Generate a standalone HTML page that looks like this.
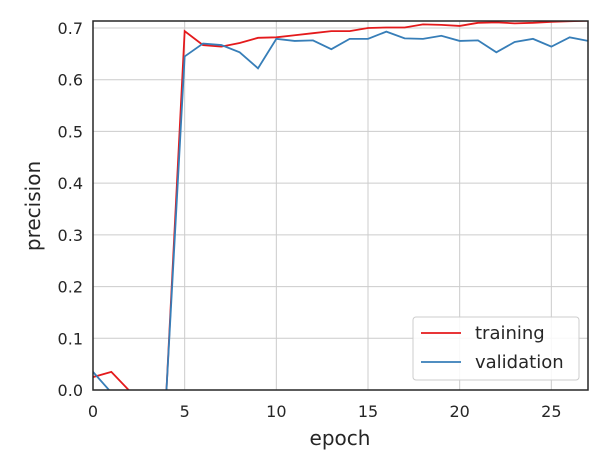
<!DOCTYPE html>
<html><head><meta charset="utf-8"><style>
body{margin:0;background:#fff;font-family:"Liberation Sans","DejaVu Sans",sans-serif;}
svg text{font-family:"DejaVu Sans","Liberation Sans",sans-serif;fill:#262626;}
</style></head><body>
<svg id="chart" width="608" height="471">
<defs><clipPath id="clip"><rect x="93" y="21" width="495" height="369"/></clipPath></defs>
<g id="grid"></g>
<g id="ticks"></g>
<g id="series" clip-path="url(#clip)"></g>
<rect x="93" y="21" width="495" height="369" fill="none" stroke="#262626" stroke-width="1.5"/>
<text x="340" y="445" font-size="20" text-anchor="middle">epoch</text>
<text x="40" y="206" font-size="20" text-anchor="middle" transform="rotate(-90 40 206)">precision</text>
<g>
<rect x="413" y="317" width="166" height="63" rx="3" fill="#fff" fill-opacity="0.85" stroke="#ccc"/>
<line x1="421" y1="333" x2="461" y2="333" stroke="#e41a1c" stroke-width="1.8"/>
<text x="475" y="339" font-size="18">training</text>
<line x1="421" y1="362" x2="461" y2="362" stroke="#377eb8" stroke-width="1.8"/>
<text x="475" y="368" font-size="18">validation</text>
</g>
</svg>
<script>
const epochs=[0,1,2,3,4,5,6,7,8,9,10,11,12,13,14,15,16,17,18,19,20,21,22,23,24,25,26,27];
const training=[0.025,0.035,-0.002,-0.005,-0.005,0.694,0.667,0.664,0.671,0.681,0.682,0.686,0.690,0.694,0.694,0.700,0.701,0.701,0.707,0.706,0.704,0.710,0.711,0.709,0.710,0.712,0.713,0.714];
const validation=[0.035,-0.005,-0.005,-0.005,-0.005,0.645,0.670,0.667,0.653,0.622,0.679,0.675,0.676,0.659,0.679,0.679,0.693,0.680,0.679,0.685,0.675,0.676,0.653,0.673,0.679,0.664,0.682,0.675];
const xTicks=[0,5,10,15,20,25];
const yTicks=[0,0.1,0.2,0.3,0.4,0.5,0.6,0.7];
const X=v=>93+v*(495/27);
const Y=v=>390-v*(362/0.7);
const NS="http://www.w3.org/2000/svg";
const grid=document.getElementById('grid'),ticks=document.getElementById('ticks'),series=document.getElementById('series');
function mk(t,a,p){const e=document.createElementNS(NS,t);for(const k in a)e.setAttribute(k,a[k]);p.appendChild(e);return e;}
xTicks.forEach(t=>{
 const l=mk('line',{x1:X(t),x2:X(t),y1:21,y2:390,stroke:'#cccccc','stroke-width':1},grid);
 
 
 const tx=mk('text',{x:X(t),y:417,'font-size':16,'text-anchor':'middle'},ticks);
 tx.textContent=t;
 
 
});
yTicks.forEach(t=>{
 const l=mk('line',{x1:93,x2:588,y1:Y(t),y2:Y(t),stroke:'#cccccc','stroke-width':1},grid);
 
 
 const tx=mk('text',{x:83,y:Y(t)+6,'font-size':16,'text-anchor':'end'},ticks);
 tx.textContent=t.toFixed(1);
 
 
});
function line(vals,color,name){
 const p=mk('polyline',{points:vals.map((v,i)=>X(epochs[i])+','+Y(v)).join(' '),fill:'none',stroke:color,'stroke-width':1.8},series);
 
 
}
line(training,'#e41a1c','training-line');
line(validation,'#377eb8','validation-line');
</script>
</body></html>
